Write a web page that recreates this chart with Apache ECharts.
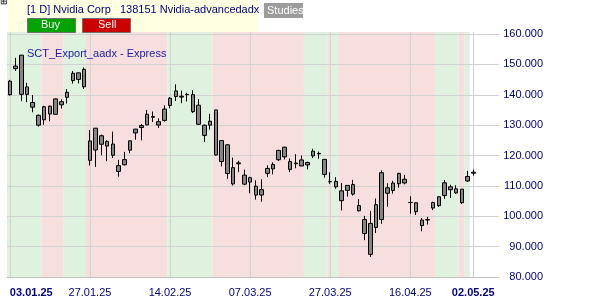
<!DOCTYPE html>
<html>
<head>
<meta charset="utf-8">
<script src="https://cdn.jsdelivr.net/npm/echarts@6/dist/echarts.min.js"></script>
<style>
html,body{margin:0;padding:0;background:#fff;}
#chart{width:600px;height:300px;}
</style>
</head>
<body>
<div id="chart"></div>
<script>
// ---- data ----
const dates = [
 '03.01.25','06.01.25','07.01.25','08.01.25','10.01.25','13.01.25','14.01.25','15.01.25','16.01.25','17.01.25',
 '21.01.25','22.01.25','23.01.25','24.01.25','27.01.25','28.01.25','29.01.25','30.01.25','31.01.25',
 '03.02.25','04.02.25','05.02.25','06.02.25','07.02.25','10.02.25','11.02.25','12.02.25','13.02.25','14.02.25',
 '18.02.25','19.02.25','20.02.25','21.02.25','24.02.25','25.02.25','26.02.25','27.02.25','28.02.25',
 '03.03.25','04.03.25','05.03.25','06.03.25','07.03.25','10.03.25','11.03.25','12.03.25','13.03.25','14.03.25',
 '17.03.25','18.03.25','19.03.25','20.03.25','21.03.25','24.03.25','25.03.25','26.03.25','27.03.25','28.03.25','31.03.25',
 '01.04.25','02.04.25','03.04.25','04.04.25','07.04.25','08.04.25','09.04.25','10.04.25','11.04.25',
 '14.04.25','15.04.25','16.04.25','17.04.25','21.04.25','22.04.25','23.04.25','24.04.25','25.04.25',
 '28.04.25','29.04.25','30.04.25','01.05.25','02.05.25'
];
const openV = [
 140.01,148.59,153.03,142.58,137.45,129.99,136.05,133.65,138.64,136.69,139.16,144.66,145.05,148.37,124.80,121.81,126.50,123.10,123.78,
 114.75,116.96,121.76,127.42,129.22,130.09,132.58,130.02,131.56,136.48,141.27,139.51,140.03,140.04,136.56,129.98,129.99,135.00,118.02,
 123.51,110.65,117.58,113.53,111.25,109.90,106.99,114.12,117.03,118.61,122.74,118.00,117.27,116.55,116.89,119.88,120.55,118.73,111.35,111.49,105.13,
 108.52,107.29,103.51,98.91,87.46,103.81,98.89,109.37,108.50,114.11,110.97,104.55,104.45,98.77,98.78,104.52,103.48,106.85,109.69,107.67,104.47,
 113.08,114.18
];
const closeV = [
 144.47,149.43,140.14,140.11,135.91,133.23,131.76,136.24,133.57,137.71,140.83,147.07,147.22,142.62,118.42,128.99,123.70,124.65,120.07,
 116.66,118.65,124.83,128.68,129.84,133.57,132.80,131.14,135.29,138.85,139.40,139.23,140.11,134.43,130.28,126.63,131.28,120.15,124.92,
 114.06,115.99,117.30,110.57,112.69,106.98,108.76,115.74,115.58,121.67,119.53,115.43,117.52,118.53,117.70,121.41,120.69,113.76,111.43,109.67,108.38,
 110.15,110.42,101.80,94.31,97.64,96.30,114.33,107.57,110.93,110.71,112.20,104.49,101.49,96.91,98.89,102.71,106.43,111.01,108.73,109.02,108.92,
 111.61,114.50
];
const lowV = [
 139.73,147.82,137.88,137.56,134.22,129.51,130.05,131.29,133.49,135.46,137.09,143.67,143.72,141.88,116.70,116.25,120.05,118.10,119.19,
 113.01,116.70,120.76,125.21,125.00,129.96,131.02,129.08,131.17,135.50,137.93,137.22,137.78,134.03,130.08,124.44,128.49,120.01,116.40,
 112.28,110.11,114.51,110.22,107.56,105.46,104.77,112.88,113.79,118.15,118.66,114.54,115.80,116.50,115.43,119.20,118.92,112.70,110.66,109.07,101.93,
 106.47,106.79,101.60,92.11,86.62,94.46,97.53,103.10,107.43,109.40,110.50,100.84,100.40,95.04,97.28,102.02,103.11,105.73,106.02,107.44,104.08,
 111.30,113.37
];
const highV = [
 144.90,152.16,153.13,143.95,139.92,133.49,136.38,136.45,138.75,138.50,141.83,147.79,147.23,148.97,128.40,129.00,126.89,125.00,127.85,
 118.57,121.20,125.00,128.77,130.37,135.00,134.48,132.24,136.50,139.25,143.44,141.36,140.67,141.46,138.59,130.20,133.73,135.01,125.09,
 123.70,119.31,118.28,115.35,113.00,111.85,112.23,116.77,117.76,121.89,122.90,119.02,120.45,120.00,117.99,122.22,121.29,118.84,114.45,112.87,110.96,
 110.20,111.98,105.63,100.13,101.75,105.85,115.10,110.86,111.65,114.29,113.62,106.59,104.47,99.43,99.81,104.80,106.54,111.92,110.37,110.20,108.92,
 114.94,115.40
];
// tick labels on the time axis
const tickDates = ['03.01.25','27.01.25','14.02.25','07.03.25','27.03.25','16.04.25','02.05.25'];
// signal bands in bar-index units: [from, to, 1 = buy (green) / 0 = sell (red)]
const bandFrom = [-0.73, 5.5, 9.42, 13.3, 27.5, 35.4, 51.4, 55.5, 56.1, 57.4, 74.3, 78.4, 79.4];
const bandTo   = [5.5, 9.42, 13.3, 27.5, 35.4, 51.4, 55.5, 56.1, 57.4, 74.3, 78.4, 79.4, 80.4];
const bandSig  = [1, 0, 1, 0, 1, 0, 1, 0, 1, 0, 1, 0, 1];

// ---- chart ----
const EMPTY_SLOTS = 4;
const categories = dates.concat(new Array(EMPTY_SLOTS).fill(''));
const candles = dates.map((d, i) => [openV[i], closeV[i], lowV[i], highV[i]]);
const bands = bandFrom.map((f, i) => [f, bandTo[i], bandSig[i]]);
const lastClose = closeV[closeV.length - 1];

const FONT = "'Liberation Sans', Arial, sans-serif";
const NAVY = '#000080';
const GREEN_BG = '#dff2df';
const RED_BG = '#f7dfdf';

const chart = echarts.init(document.getElementById('chart'), null, {renderer: 'canvas'});
chart.setOption({
  animation: false,
  backgroundColor: '#ffffff',
  textStyle: {fontFamily: FONT},
  title: {
    text: 'SCT_Export_aadx - Express',
    left: 27, top: 48, padding: 0,
    textStyle: {fontSize: 11, fontWeight: 'normal', color: '#1a1aa0', fontFamily: FONT}
  },
  grid: {left: 7, right: 101, top: 32, bottom: 23},
  xAxis: [{
    type: 'category',
    data: categories,
    boundaryGap: true,
    axisLine: {show: true, lineStyle: {color: '#c4c4c4'}},
    axisTick: {show: false},
    splitLine: {
      show: true,
      alignWithLabel: true,
      interval: (i, v) => tickDates.indexOf(v) >= 0,
      lineStyle: {color: '#d2d2d2', width: 1}
    },
    axisLabel: {
      interval: (i, v) => tickDates.indexOf(v) >= 0,
      alignMinLabel: 'left',
      margin: 10,
      color: NAVY,
      fontSize: 11,
      fontFamily: FONT,
      formatter: (v) => (v === tickDates[0] || v === tickDates[tickDates.length - 1]) ? '{b|' + v + '}' : v,
      rich: {b: {fontWeight: 'bold', color: NAVY, fontSize: 11, fontFamily: FONT}}
    }
  }, {
    type: 'value',
    show: false,
    min: -0.5,
    max: categories.length - 0.5
  }],
  yAxis: {
    type: 'value',
    position: 'right',
    min: 80,
    max: 160.66,
    interval: 10,
    axisLine: {show: false},
    axisTick: {show: false},
    splitLine: {show: true, showMaxLine: false, lineStyle: {color: '#d2d2d2', width: 1}},
    axisLabel: {
      showMaxLabel: false,
      formatter: (v) => v.toFixed(3),
      align: 'right',
      margin: 44,
      color: NAVY,
      fontSize: 11,
      fontFamily: FONT
    }
  },
  graphic: [
    {type: 'rect', left: 8, top: 0, shape: {width: 250, height: 32}, style: {fill: '#ffffe2'}, z: 10},
    {type: 'text', left: 0, top: -3, style: {text: '⊞', font: '9px ' + FONT, fill: '#000'}, z: 11},
    {type: 'text', left: 27, top: 4, style: {text: '[1 D] Nvidia Corp   138151 Nvidia-advancedadx', font: '11px ' + FONT, fill: NAVY}, z: 11},
    {type: 'rect', left: 264, top: 3, shape: {width: 39, height: 15}, style: {fill: '#9c9c9c'}, z: 10},
    {type: 'text', left: 267, top: 5, style: {text: 'Studies', font: '11px ' + FONT, fill: '#ffffff'}, z: 11},
    {type: 'rect', left: 27, top: 18, shape: {width: 48, height: 14}, style: {fill: '#00a300', stroke: '#707070', lineWidth: 1}, z: 10},
    {type: 'text', left: 41, top: 19, style: {text: 'Buy', font: '11px ' + FONT, fill: '#ffffff'}, z: 11},
    {type: 'rect', left: 82, top: 18, shape: {width: 48, height: 14}, style: {fill: '#cc0000', stroke: '#707070', lineWidth: 1}, z: 10},
    {type: 'text', left: 98, top: 19, style: {text: 'Sell', font: '11px ' + FONT, fill: '#ffffff'}, z: 11}
  ],
  series: [{
    type: 'custom',
    name: 'signals',
    xAxisIndex: 1,
    yAxisIndex: 0,
    z: -1,
    silent: true,
    encode: {x: [0, 1], y: 2},
    data: bands,
    renderItem: function (params, api) {
      const cs = params.coordSys;
      const x0 = api.coord([api.value(0), 100])[0];
      const x1 = api.coord([api.value(1), 100])[0];
      const shape = echarts.graphic.clipRectByRect(
        {x: x0, y: cs.y, width: x1 - x0, height: cs.height},
        {x: cs.x, y: cs.y, width: cs.width, height: cs.height}
      );
      if (!shape) return;
      return {type: 'rect', shape: shape, style: {fill: api.value(2) ? GREEN_BG : RED_BG}};
    }
  }, {
    type: 'candlestick',
    name: 'Nvidia',
    xAxisIndex: 0,
    yAxisIndex: 0,
    data: candles,
    barWidth: 4,
    itemStyle: {
      color: '#858585', color0: '#858585',
      borderColor: '#000000', borderColor0: '#000000',
      borderWidth: 1
    },
    markLine: {
      silent: true,
      symbol: 'none',
      data: [{yAxis: lastClose}],
      lineStyle: {opacity: 0},
      label: {
        show: true,
        position: 'end',
        distance: 3,
        formatter: (p) => Number(p.value).toFixed(3),
        backgroundColor: '#ffffc8',
        borderColor: '#606060',
        borderWidth: 1,
        padding: [1, 3, 0, 3],
        color: NAVY,
        fontSize: 11,
        fontFamily: FONT
      }
    }
  }]
});
</script>
</body>
</html>
